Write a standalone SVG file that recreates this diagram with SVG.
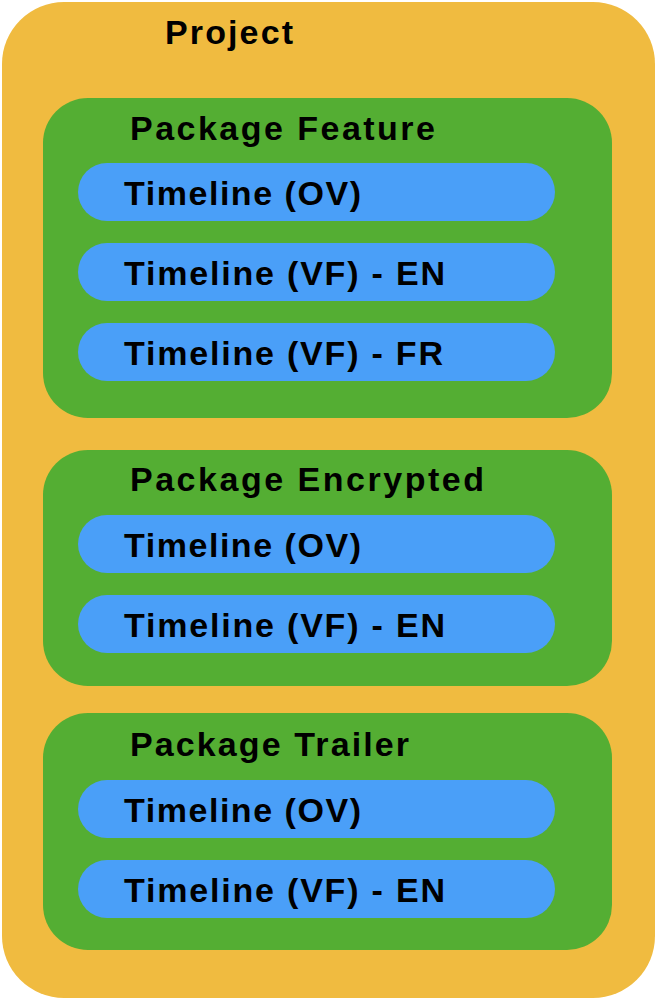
<svg xmlns="http://www.w3.org/2000/svg" width="657" height="1000" viewBox="0 0 657 1000">
<style>
text{font-family:"Helvetica","Liberation Sans",Arial,sans-serif;fill:#000;font-weight:600;font-size:34px}
.p{fill:#f0bb40}.g{fill:#54ae33}.b{fill:#4a9ff8}
</style>
<g id="project"><rect class="p" x="2" y="2" width="653" height="996" rx="62"/><text x="165" y="44" textLength="128">Project</text></g>
<g id="pkg-feature"><rect class="g" x="43" y="98" width="569" height="320" rx="45"/><text x="130" y="140" textLength="305">Package Feature</text></g>
<g id="tl-f1"><rect class="b" x="78" y="163" width="477" height="58" rx="29"/><text x="124" y="205" textLength="237">Timeline (OV)</text></g>
<g id="tl-f2"><rect class="b" x="78" y="243" width="477" height="58" rx="29"/><text x="124" y="285" textLength="321">Timeline (VF) - EN</text></g>
<g id="tl-f3"><rect class="b" x="78" y="323" width="477" height="58" rx="29"/><text x="124" y="365" textLength="319">Timeline (VF) - FR</text></g>
<g id="pkg-encrypted"><rect class="g" x="43" y="450" width="569" height="236" rx="45"/><text x="130" y="491" textLength="354">Package Encrypted</text></g>
<g id="tl-e1"><rect class="b" x="78" y="515" width="477" height="58" rx="29"/><text x="124" y="557" textLength="237">Timeline (OV)</text></g>
<g id="tl-e2"><rect class="b" x="78" y="595" width="477" height="58" rx="29"/><text x="124" y="637" textLength="321">Timeline (VF) - EN</text></g>
<g id="pkg-trailer"><rect class="g" x="43" y="713" width="569" height="237" rx="45"/><text x="130" y="756" textLength="279">Package Trailer</text></g>
<g id="tl-t1"><rect class="b" x="78" y="780" width="477" height="58" rx="29"/><text x="124" y="822" textLength="237">Timeline (OV)</text></g>
<g id="tl-t2"><rect class="b" x="78" y="860" width="477" height="58" rx="29"/><text x="124" y="902" textLength="321">Timeline (VF) - EN</text></g>
<g id="connectors"/>
</svg>
